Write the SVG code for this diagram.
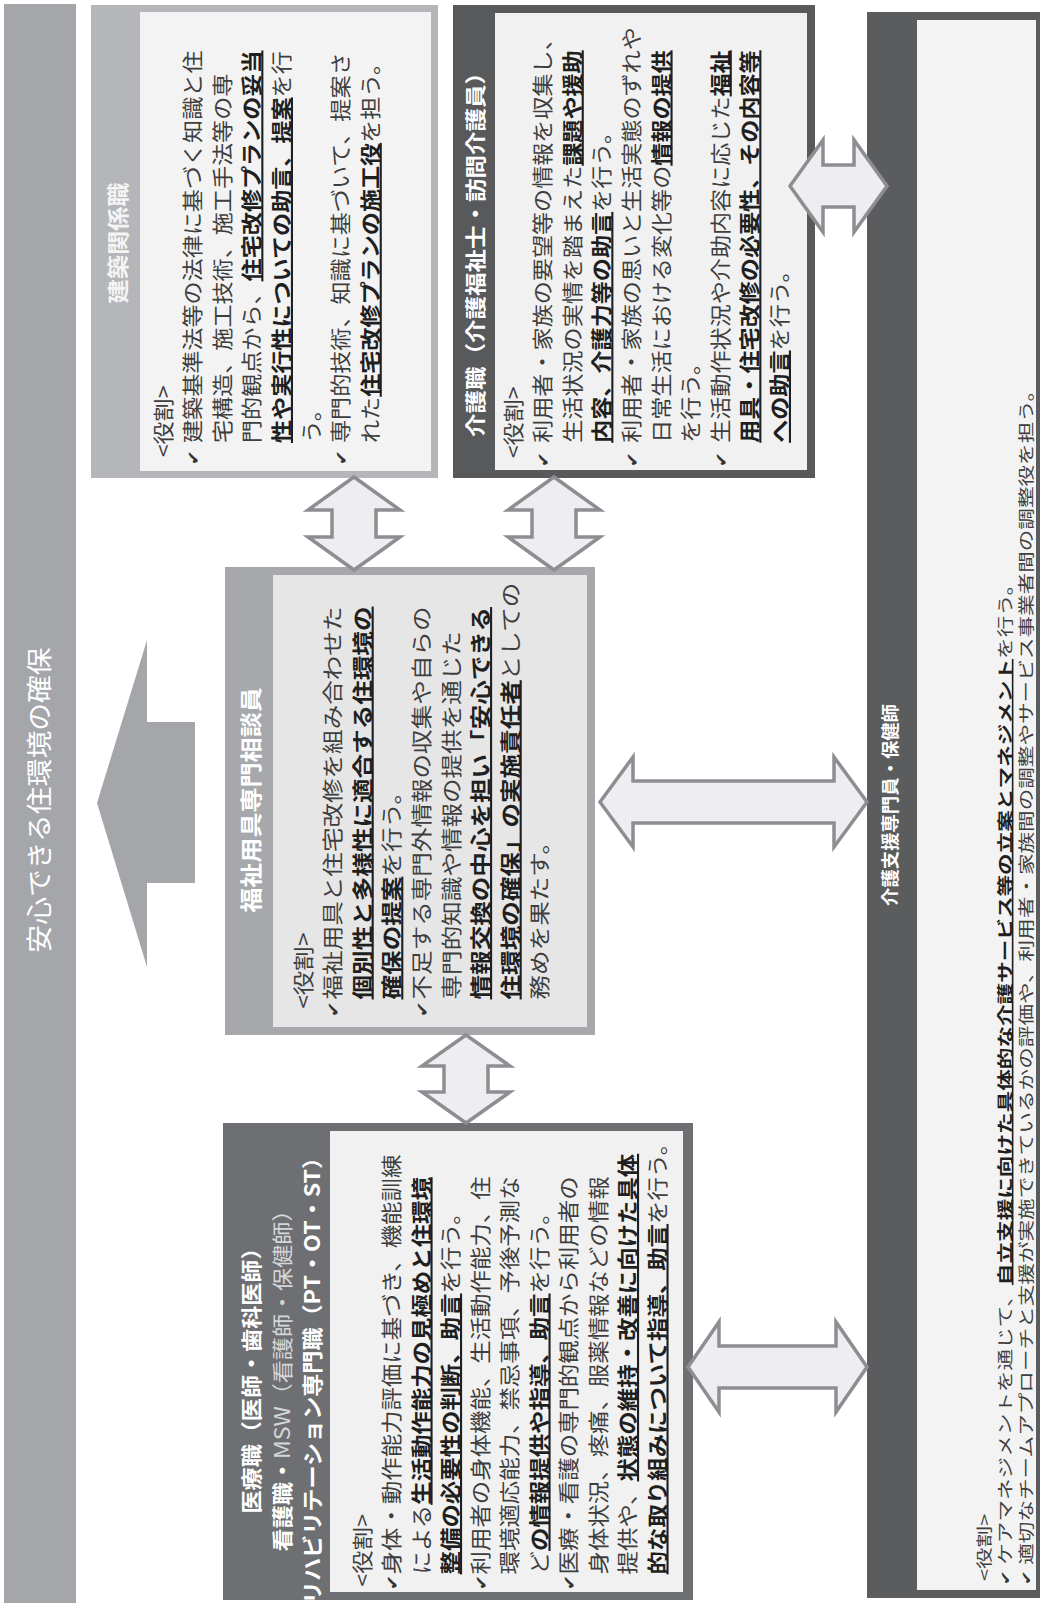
<svg xmlns="http://www.w3.org/2000/svg" width="1040" height="1603" viewBox="0 0 1040 1603">
<style>
text{font-family:"Noto Sans CJK JP","Noto Sans",sans-serif;}
.t{font-size:21px;fill:#3e3e3e;}
.s{font-size:16px;fill:#3e3e3e;}
.b{font-weight:700;fill:#1f1f1f;text-decoration:underline;}
.h{font-weight:700;fill:#ffffff;font-size:21px;}
.ck{font-family:"DejaVu Sans",sans-serif;font-size:16px;fill:#333;}
.da{fill:#eeeef0;stroke:#8d8e92;stroke-width:3.5;stroke-linejoin:miter;}
</style>
<rect width="1040" height="1603" fill="#ffffff"/>

<g id="goal">
<rect x="4" y="4" width="72" height="1599" fill="#a5a6aa"/>
<g transform="translate(0,800) rotate(-90) scale(1.07,1)"><text x="0" y="49" text-anchor="middle" style="font-size:26px;fill:#ffffff">安心できる住環境の確保</text></g>
<polygon points="97,803 147,640 147,722 195,722 195,883 147,883 147,967" fill="#a5a6aa"/>
</g>

<g id="kenchiku">
<rect x="91" y="5" width="347" height="473" fill="#b5b6b9"/>
<rect x="140" y="12" width="291" height="459" fill="#f3f3f3"/>
<g transform="translate(0,243) rotate(-90) scale(1.1,1)"><text class="h" x="0" y="126" text-anchor="middle" style="font-size:22px;fill:#f4f4f4">建築関係職</text></g>
<g transform="translate(0,465) rotate(-90) scale(1.1,1)">
<text class="t" x="7" y="170.6">&lt;役割&gt;</text>
<text class="ck" x="0" y="199">✔</text>
<text class="t" x="20" y="200">建築基準法等の法律に基づく知識と住</text>
<text class="t" x="20" y="229.8">宅構造、施工技術、施工手法等の専</text>
<text class="t" x="20" y="259.4">門的観点から、<tspan class="b">住宅改修プランの妥当</tspan></text>
<text class="t" x="20" y="289"><tspan class="b">性や実行性についての助言、提案</tspan>を行</text>
<text class="t" x="20" y="318.6">う。</text>
<text class="ck" x="0" y="347.2">✔</text>
<text class="t" x="20" y="348.2">専門的技術、知識に基づいて、提案さ</text>
<text class="t" x="20" y="377.8">れた<tspan class="b">住宅改修プランの施工役</tspan>を担う。</text>
</g>
</g>

<g id="kaigo">
<rect x="453" y="5" width="362" height="473" fill="#58595b"/>
<rect x="495" y="13" width="312" height="457" fill="#f1f1f1"/>
<g transform="translate(0,437) rotate(-90) scale(1.12,1)"><text class="h" x="0" y="483">介護職（介護福祉士・訪問介護員）</text></g>
<g transform="translate(0,467) rotate(-90) scale(1.1,1)">
<text class="t" x="8" y="520.6">&lt;役割&gt;</text>
<text class="ck" x="0" y="549.2">✔</text>
<text class="t" x="22" y="550.2">利用者・家族の要望等の情報を収集し、</text>
<text class="t" x="22" y="579.8">生活状況の実情を踏まえた<tspan class="b">課題や援助</tspan></text>
<text class="t" x="22" y="609.4"><tspan class="b">内容、介護力等の助言</tspan>を行う。</text>
<text class="ck" x="0" y="638">✔</text>
<text class="t" x="22" y="639">利用者・家族の思いと生活実態のずれや</text>
<text class="t" x="22" y="668.6">日常生活における変化等の<tspan class="b">情報の提供</tspan></text>
<text class="t" x="22" y="698.2">を行う。</text>
<text class="ck" x="0" y="726.8">✔</text>
<text class="t" x="22" y="727.8">生活動作状況や介助内容に応じた<tspan class="b">福祉</tspan></text>
<text class="t" x="22" y="757.4"><tspan class="b">用具・住宅改修の必要性、その内容等</tspan></text>
<text class="t" x="22" y="787"><tspan class="b">への助言</tspan>を行う。</text>
</g>
</g>

<g id="fukushi">
<rect x="225" y="567" width="370" height="468" fill="#a7a8ab"/>
<rect x="273" y="575" width="314" height="452" fill="#e6e6e7"/>
<g transform="translate(0,800) rotate(-90) scale(1.14,1)"><text class="h" x="0" y="259" text-anchor="middle" style="font-size:22px">福祉用具専門相談員</text></g>
<g transform="translate(0,1017) rotate(-90) scale(1.17,1)">
<text class="t" x="7" y="310.6">&lt;役割&gt;</text>
<text class="ck" x="0" y="339.2">✔</text>
<text class="t" x="15" y="340.2">福祉用具と住宅改修を組み合わせた</text>
<text class="t" x="15" y="369.8"><tspan class="b">個別性と多様性に適合する住環境の</tspan></text>
<text class="t" x="15" y="399.4"><tspan class="b">確保の提案</tspan>を行う。</text>
<text class="ck" x="0" y="428">✔</text>
<text class="t" x="15" y="429">不足する専門外情報の収集や自らの</text>
<text class="t" x="15" y="458.6">専門的知識や情報の提供を通じた</text>
<text class="t" x="15" y="488.2"><tspan class="b">情報交換の中心を担い「安心できる</tspan></text>
<text class="t" x="15" y="517.8"><tspan class="b">住環境の確保」の実施責任者</tspan>としての</text>
<text class="t" x="15" y="547.4">務めを果たす。</text>
</g>
</g>

<g id="iryo">
<rect x="223" y="1123" width="470" height="477" fill="#6e6f72"/>
<rect x="330" y="1131" width="353" height="461" fill="#f1f1f1"/>
<g transform="translate(0,1375) rotate(-90) scale(1.1,1)">
<text class="h" x="0" y="259" text-anchor="middle">医療職（医師・歯科医師）</text>
<text class="h" x="0" y="290" text-anchor="middle">看護職・<tspan style="font-weight:400;fill:#d6d6d8">MSW（看護師・保健師）</tspan></text>
<text class="h" x="0" y="320" text-anchor="middle">リハビリテーション専門職（PT・OT・ST）</text>
</g>
<g transform="translate(0,1590) rotate(-90) scale(1.115,1)">
<text class="t" x="3" y="369.6">&lt;役割&gt;</text>
<text class="ck" x="0" y="398.1">✔</text>
<text class="t" x="14" y="399.1">身体・動作能力評価に基づき、機能訓練</text>
<text class="t" x="14" y="428.6">による<tspan class="b">生活動作能力の見極めと住環境</tspan></text>
<text class="t" x="14" y="458.1"><tspan class="b">整備の必要性の判断、助言</tspan>を行う。</text>
<text class="ck" x="0" y="486.6">✔</text>
<text class="t" x="14" y="487.6">利用者の身体機能、生活動作能力、住</text>
<text class="t" x="14" y="517.1">環境適応能力、禁忌事項、予後予測な</text>
<text class="t" x="14" y="546.6">ど<tspan class="b">の情報提供や指導、助言</tspan>を行う。</text>
<text class="ck" x="0" y="575.1">✔</text>
<text class="t" x="14" y="576.1">医療・看護の専門的観点から利用者の</text>
<text class="t" x="14" y="605.6">身体状況、疼痛、服薬情報などの情報</text>
<text class="t" x="14" y="635.1">提供や、<tspan class="b">状態の維持・改善に向けた具体</tspan></text>
<text class="t" x="14" y="664.6"><tspan class="b">的な取り組みについて指導、助言</tspan>を行う。</text>
</g>
</g>

<g id="caremanager">
<rect x="867" y="12" width="173" height="1586" fill="#5b5c5e"/>
<rect x="917" y="20" width="119" height="1570" fill="#f3f3f3"/>
<g transform="translate(0,805) rotate(-90) scale(1.02,1)"><text class="h" x="0" y="897.5" text-anchor="middle" style="font-size:18px">介護支援専門員・保健師</text></g>
<g transform="translate(0,1585) rotate(-90) scale(1.35,1)">
<text class="s" x="3" y="990">&lt;役割&gt;</text>
<text class="ck" x="0" y="1010" style="font-size:13px">✔</text>
<text class="s" x="15" y="1011">ケアマネジメントを通じて、<tspan class="b">自立支援に向けた具体的な介護サービス等の立案とマネジメント</tspan>を行う。</text>
<text class="ck" x="0" y="1031" style="font-size:13px">✔</text>
<text class="s" x="15" y="1032">適切なチームアプローチと支援が実施できているかの評価や、利用者・家族間の調整やサービス事業者間の調整役を担う。</text>
</g>
</g>

<g id="connectors">
<polygon class="da" points="354,477 400,510 376,510 376,537 400,537 354,570 308,537 332,537 332,510 308,510"/>
<polygon class="da" points="554,477 600,510 576,510 576,537 600,537 554,570 508,537 532,537 532,510 508,510"/>
<polygon class="da" points="466,1035 510,1066 488,1066 488,1092 510,1092 466,1123 422,1092 444,1092 444,1066 422,1066"/>
<polygon class="da" points="600,802 633,757 633,781 834,781 834,757 867,802 834,847 834,823 633,823 633,847"/>
<polygon class="da" points="688,1367 719,1322 719,1346 836,1346 836,1322 867,1367 836,1412 836,1388 719,1388 719,1412"/>
<polygon class="da" points="790,186 823,140 823,165 854,165 854,140 887,186 854,232 854,207 823,207 823,232"/>
</g>
</svg>
